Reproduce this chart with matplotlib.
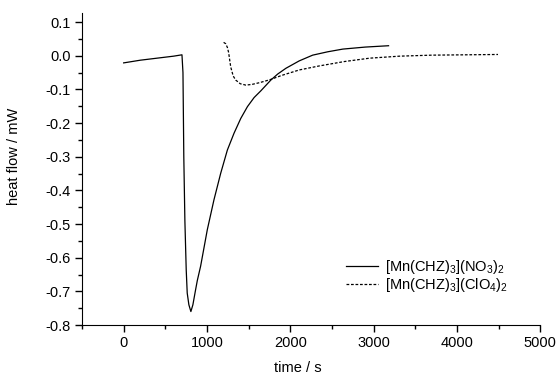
import matplotlib.pyplot as plt
from matplotlib.ticker import MultipleLocator

plt.rcParams['font.family'] = ['Liberation Sans', 'DejaVu Sans']
plt.rcParams['mathtext.fontset'] = 'custom'
plt.rcParams['mathtext.rm'] = 'Liberation Sans'
plt.rcParams['mathtext.it'] = 'Liberation Sans'

# [Mn(CHZ)3](NO3)2
nitrate_t = [0, 100, 200, 300, 400, 500, 600, 700, 712, 722, 735, 751, 763, 783, 807,
             831, 860, 884, 924, 1004, 1084, 1165, 1245, 1325, 1406, 1486, 1566, 1647,
             1707, 1767, 1850, 1948, 2108, 2269, 2450, 2631, 2900, 3180]
nitrate_q = [-0.021, -0.017, -0.013, -0.010, -0.007, -0.004, -0.001, 0.003, -0.05, -0.30,
             -0.49, -0.636, -0.705, -0.740, -0.760, -0.740, -0.700, -0.668, -0.625, -0.517,
             -0.428, -0.349, -0.280, -0.230, -0.186, -0.151, -0.124, -0.104, -0.088, -0.072,
             -0.054, -0.037, -0.015, 0.002, 0.012, 0.020, 0.026, 0.030]

# [Mn(CHZ)3](ClO4)2
perchlorate_t = [1200, 1225, 1245, 1260, 1285, 1315, 1345, 1400, 1466, 1540, 1627, 1700,
                 1767, 1900, 2108, 2349, 2650, 2952, 3313, 3700, 4100, 4494]
perchlorate_q = [0.040, 0.036, 0.025, 0.010, -0.033, -0.060, -0.072, -0.083, -0.087, -0.085,
                 -0.080, -0.075, -0.070, -0.058, -0.042, -0.030, -0.017, -0.007, -0.001,
                 0.002, 0.003, 0.004]

fig = plt.figure(figsize=(5.56, 3.74), dpi=100)
ax = fig.add_axes([0.1475, 0.131, 0.824, 0.834])

ax.plot(nitrate_t, nitrate_q, color='black', lw=0.9,
        label=r'[Mn(CHZ)$_3$](NO$_3$)$_2$')
ax.plot(perchlorate_t, perchlorate_q, color='black', lw=0.9, linestyle=(0, (2.2, 1.4)),
        label=r'[Mn(CHZ)$_3$](ClO$_4$)$_2$')

ax.set_xlim(-500, 5000)
ax.set_ylim(-0.8, 0.127)
ax.xaxis.set_major_locator(MultipleLocator(1000))
ax.xaxis.set_minor_locator(MultipleLocator(500))
ax.yaxis.set_major_locator(MultipleLocator(0.1))
ax.yaxis.set_minor_locator(MultipleLocator(0.05))
ax.yaxis.set_major_formatter(plt.FuncFormatter(lambda v, p: f'{v:.1f}'.replace('-0.0', '0.0')))

for s in ['top', 'right']:
    ax.spines[s].set_visible(False)
ax.tick_params(which='major', direction='out', length=5, width=1, labelsize=10.5, pad=3)
ax.tick_params(which='minor', direction='out', length=3, width=1)

ax.set_xlabel('time / s', fontsize=10.5)
ax.set_ylabel('heat flow / mW', fontsize=10.5)
ax.xaxis.set_label_coords(0.47, -0.115)
ax.yaxis.set_label_coords(-0.133, 0.54)

ax.legend(loc='lower right', bbox_to_anchor=(0.953, 0.066), frameon=False, fontsize=10.5,
          handlelength=2.2, handletextpad=0.5, labelspacing=0.0, borderpad=0.2)

fig.savefig('out.png', dpi=100)
